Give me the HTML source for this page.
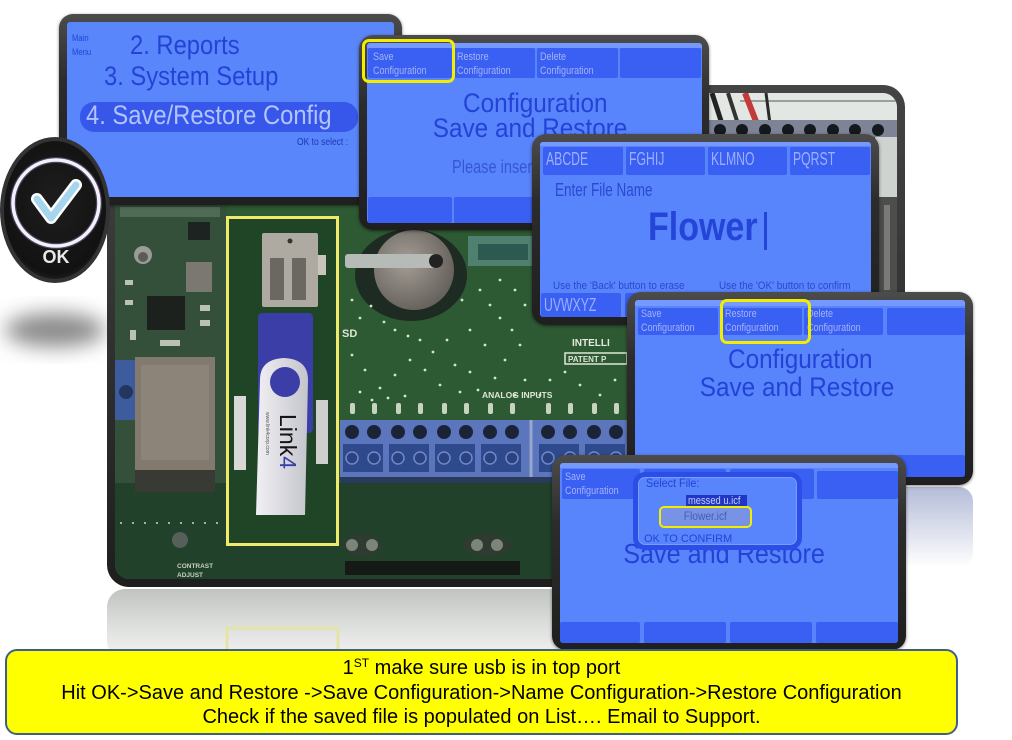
<!DOCTYPE html>
<html><head><meta charset="utf-8">
<style>
html,body{margin:0;padding:0;background:#fff;}
body{width:1012px;height:740px;position:relative;overflow:hidden;font-family:"Liberation Sans",Arial,sans-serif;}
.scr{position:absolute;border-radius:14px;background:linear-gradient(180deg,#4c4c4c 0%,#2c2c2c 35%,#1f1f1f 100%);box-shadow:0 1px 3px rgba(0,0,0,.5);}
.lcd{position:absolute;overflow:hidden;background:#5884fc;border-radius:3px;}
.strip{position:absolute;left:0;right:0;top:0;background:#7599ff;}
.tab{position:absolute;background:#3a5ff3;border-radius:2px;}
.t{position:absolute;white-space:nowrap;line-height:1;transform-origin:0 0;}
.tt{position:absolute;white-space:nowrap;font-size:11px;line-height:14px;color:#a3b4f6;transform:scaleX(.82);transform-origin:0 0;}
.c{position:absolute;white-space:nowrap;line-height:1;text-align:center;width:400px;}
.c span{display:inline-block;transform-origin:50% 0;}
.yb{position:absolute;border:3px solid #f3ee00;border-radius:7px;box-sizing:border-box;}
.dk{color:#2443d6;}
</style></head><body>

<svg width="1012" height="740" viewBox="0 0 1012 740" style="position:absolute;left:0;top:0">
<defs>
<clipPath id="pc"><rect x="115" y="93" width="782" height="486" rx="14"/></clipPath>
<linearGradient id="rf" x1="0" y1="0" x2="0" y2="1"><stop offset="0" stop-color="#c0c4c0"/><stop offset="0.5" stop-color="#dcdedc"/><stop offset="1" stop-color="#f3f3f3"/></linearGradient>
<linearGradient id="rf2" x1="0" y1="0" x2="0" y2="1"><stop offset="0" stop-color="#b4bcd8"/><stop offset="1" stop-color="#ffffff"/></linearGradient>
<linearGradient id="fr" x1="0" y1="0" x2="0" y2="1"><stop offset="0" stop-color="#444"/><stop offset="1" stop-color="#1e1e1e"/></linearGradient>
<radialGradient id="coin" cx="0.4" cy="0.4" r="0.7"><stop offset="0" stop-color="#a49e96"/><stop offset="1" stop-color="#5f5a55"/></radialGradient>
<linearGradient id="sw" x1="0" y1="0" x2="1" y2="0"><stop offset="0" stop-color="#f0f0f4"/><stop offset="1" stop-color="#c4c4cc"/></linearGradient>
<filter id="bl" x="-50%" y="-50%" width="200%" height="200%"><feGaussianBlur stdDeviation="10"/></filter>
</defs>
<ellipse cx="55" cy="330" rx="50" ry="17" fill="#8a8a8a" filter="url(#bl)"/>
<rect x="107" y="589" width="460" height="70" rx="18" fill="url(#rf)"/>
<rect x="227" y="628" width="111" height="40" fill="none" stroke="#e6e3a8" stroke-width="3"/>
<rect x="870" y="487" width="103" height="80" rx="14" fill="url(#rf2)"/>
<rect x="107" y="85" width="798" height="502" rx="22" fill="url(#fr)"/>
<g clip-path="url(#pc)">
<rect x="115" y="93" width="782" height="486" fill="#2d5a33"/>
<rect x="115" y="93" width="112" height="486" fill="#34503a"/>
<rect x="115" y="483" width="445" height="96" fill="#22412a"/>
<!-- top right -->
<rect x="700" y="93" width="197" height="44" fill="#e3e7e3"/>
<line x1="740" y1="101" x2="897" y2="101" stroke="#9aa09a" stroke-width="2"/>
<path d="M712,93 L722,124" stroke="#222" stroke-width="5"/>
<path d="M728,93 L738,124" stroke="#333" stroke-width="4"/>
<path d="M745,93 L757,124" stroke="#c23a3a" stroke-width="6"/>
<path d="M766,93 L770,124" stroke="#2a2a2a" stroke-width="3"/>
<rect x="705" y="120" width="192" height="17" fill="#7d8496"/>
<g fill="#15181f"><circle cx="720" cy="130" r="6"/><circle cx="742" cy="130" r="6"/><circle cx="765" cy="130" r="6"/><circle cx="788" cy="130" r="6"/><circle cx="810" cy="130" r="6"/><circle cx="833" cy="130" r="6"/><circle cx="855" cy="130" r="6"/><circle cx="878" cy="130" r="6"/></g>
<rect x="875" y="137" width="22" height="60" fill="#cfd3cf"/>
<rect x="875" y="197" width="22" height="100" fill="#4d4d4b"/>
<rect x="884" y="205" width="6" height="85" fill="#7a7a78"/>
<!-- teal chip -->
<rect x="468" y="236" width="64" height="30" fill="#4f8070"/>
<rect x="478" y="244" width="50" height="16" fill="#2c5a50"/>
<!-- battery -->
<ellipse cx="411" cy="275" rx="56" ry="46" fill="#1d2b22"/>
<circle cx="414" cy="270" r="40" fill="url(#coin)"/>
<rect x="345" y="254" width="95" height="14" rx="3" fill="#b7bbb7"/>
<circle cx="436" cy="261" r="7" fill="#222"/>
<!-- left components -->
<rect x="120" y="207" width="100" height="10" fill="#4f6a55"/>
<circle cx="143" cy="255" r="9" fill="#9a9c96"/><circle cx="143" cy="257" r="5" fill="#5a5c56"/>
<rect x="186" y="262" width="26" height="30" fill="#7a7870"/>
<rect x="147" y="296" width="38" height="34" fill="#1c211d"/>
<rect x="188" y="222" width="22" height="18" fill="#1d2320"/>
<g fill="#b9c2b4"><rect x="125" y="280" width="8" height="5"/><rect x="125" y="300" width="8" height="5"/><rect x="200" y="305" width="10" height="6"/><rect x="200" y="320" width="10" height="6"/><rect x="160" y="340" width="20" height="6"/><rect x="130" y="330" width="6" height="10"/></g>
<!-- ethernet -->
<rect x="115" y="360" width="22" height="60" fill="#3d5c9e"/><circle cx="126" cy="392" r="7" fill="#23375e"/>
<rect x="135" y="357" width="80" height="113" fill="#827a6e"/>
<rect x="141" y="365" width="68" height="95" fill="#8c8478"/>
<rect x="135" y="470" width="80" height="22" fill="#3a3a34"/>
<line x1="120" y1="523" x2="330" y2="523" stroke="#9fb29a" stroke-width="2" stroke-dasharray="2 10"/>
<circle cx="180" cy="540" r="8" fill="#56605a"/>
<text x="177" y="568" font-size="6.5" font-weight="bold" fill="#c9d0c6" font-family="Liberation Sans, sans-serif">CONTRAST</text>
<text x="177" y="577" font-size="6.5" font-weight="bold" fill="#c9d0c6" font-family="Liberation Sans, sans-serif">ADJUST</text>
<!-- dots -->
<g fill="#d6e4cf">
<circle cx="352" cy="300" r="1.4"/><circle cx="360" cy="318" r="1.4"/><circle cx="371" cy="306" r="1.4"/><circle cx="384" cy="322" r="1.4"/><circle cx="395" cy="330" r="1.4"/><circle cx="408" cy="336" r="1.4"/><circle cx="420" cy="340" r="1.4"/><circle cx="433" cy="352" r="1.4"/><circle cx="447" cy="340" r="1.4"/><circle cx="455" cy="365" r="1.4"/><circle cx="470" cy="372" r="1.4"/><circle cx="462" cy="300" r="1.4"/><circle cx="480" cy="290" r="1.4"/><circle cx="490" cy="305" r="1.4"/><circle cx="500" cy="318" r="1.4"/><circle cx="512" cy="330" r="1.4"/><circle cx="520" cy="345" r="1.4"/><circle cx="505" cy="360" r="1.4"/><circle cx="495" cy="378" r="1.4"/><circle cx="478" cy="390" r="1.4"/><circle cx="460" cy="392" r="1.4"/><circle cx="440" cy="385" r="1.4"/><circle cx="425" cy="370" r="1.4"/><circle cx="410" cy="360" r="1.4"/><circle cx="395" cy="375" r="1.4"/><circle cx="380" cy="388" r="1.4"/><circle cx="365" cy="370" r="1.4"/><circle cx="352" cy="355" r="1.4"/><circle cx="360" cy="392" r="1.4"/><circle cx="372" cy="400" r="1.4"/><circle cx="388" cy="398" r="1.4"/><circle cx="405" cy="396" r="1.4"/><circle cx="515" cy="395" r="1.4"/><circle cx="525" cy="380" r="1.4"/><circle cx="540" cy="395" r="1.4"/><circle cx="550" cy="380" r="1.4"/><circle cx="565" cy="372" r="1.4"/><circle cx="580" cy="385" r="1.4"/><circle cx="600" cy="395" r="1.4"/><circle cx="615" cy="380" r="1.4"/><circle cx="500" cy="280" r="1.4"/><circle cx="515" cy="290" r="1.4"/><circle cx="525" cy="305" r="1.4"/><circle cx="470" cy="330" r="1.4"/><circle cx="485" cy="345" r="1.4"/>
</g>
<text x="342" y="337" font-size="11" font-weight="bold" fill="#dde5d5" font-family="Liberation Sans, sans-serif">SD</text>
<text x="482" y="398" font-size="8.5" font-weight="bold" fill="#dfe6d8" font-family="Liberation Sans, sans-serif">ANALOG INPUTS</text>
<text x="572" y="346" font-size="10" font-weight="bold" fill="#e3e9dd" font-family="Liberation Sans, sans-serif">INTELLI</text>
<rect x="565" y="353" width="62" height="11" fill="none" stroke="#dfe6d8" stroke-width="1.5"/>
<text x="568" y="362" font-size="8" font-weight="bold" fill="#dfe6d8" font-family="Liberation Sans, sans-serif">PATENT P</text>
<!-- terminal blocks -->
<g fill="#c8d2c0"><rect x="350" y="403" width="5" height="11" rx="2"/><rect x="372" y="403" width="5" height="11" rx="2"/><rect x="396" y="403" width="5" height="11" rx="2"/><rect x="418" y="403" width="5" height="11" rx="2"/><rect x="442" y="403" width="5" height="11" rx="2"/><rect x="464" y="403" width="5" height="11" rx="2"/><rect x="488" y="403" width="5" height="11" rx="2"/><rect x="510" y="403" width="5" height="11" rx="2"/><rect x="546" y="403" width="5" height="11" rx="2"/><rect x="568" y="403" width="5" height="11" rx="2"/><rect x="592" y="403" width="5" height="11" rx="2"/><rect x="614" y="403" width="5" height="11" rx="2"/></g>
<rect x="340" y="420" width="290" height="63" fill="#5b76bc"/>
<line x1="531" y1="420" x2="531" y2="483" stroke="#97a8cc" stroke-width="3"/>
<g fill="#2f4a8c"><rect x="343" y="444" width="40" height="28"/><rect x="389" y="444" width="40" height="28"/><rect x="435" y="444" width="40" height="28"/><rect x="481" y="444" width="40" height="28"/><rect x="539" y="444" width="40" height="28"/><rect x="585" y="444" width="40" height="28"/></g>
<g fill="#1b2336"><circle cx="352" cy="432" r="7"/><circle cx="374" cy="432" r="7"/><circle cx="398" cy="432" r="7"/><circle cx="420" cy="432" r="7"/><circle cx="444" cy="432" r="7"/><circle cx="466" cy="432" r="7"/><circle cx="490" cy="432" r="7"/><circle cx="512" cy="432" r="7"/><circle cx="548" cy="432" r="7"/><circle cx="570" cy="432" r="7"/><circle cx="594" cy="432" r="7"/><circle cx="616" cy="432" r="7"/></g>
<g fill="#2a4280" stroke="#7088c8" stroke-width="1.5"><circle cx="352" cy="458" r="6"/><circle cx="374" cy="458" r="6"/><circle cx="398" cy="458" r="6"/><circle cx="420" cy="458" r="6"/><circle cx="444" cy="458" r="6"/><circle cx="466" cy="458" r="6"/><circle cx="490" cy="458" r="6"/><circle cx="512" cy="458" r="6"/><circle cx="548" cy="458" r="6"/><circle cx="570" cy="458" r="6"/><circle cx="594" cy="458" r="6"/><circle cx="616" cy="458" r="6"/></g>
<rect x="340" y="477" width="290" height="6" fill="#2a3a5a"/>
<!-- bottom connectors -->
<ellipse cx="362" cy="545" rx="20" ry="11" fill="#2f3a30"/><circle cx="352" cy="545" r="6" fill="#7c857a"/><circle cx="372" cy="545" r="6" fill="#7c857a"/>
<ellipse cx="487" cy="545" rx="24" ry="11" fill="#2f3a30"/><circle cx="477" cy="545" r="6" fill="#7c857a"/><circle cx="497" cy="545" r="6" fill="#7c857a"/>
<rect x="345" y="561" width="175" height="14" fill="#161a16"/>
<!-- yellow box + usb -->
<rect x="227.5" y="217.5" width="110" height="327" fill="#1f4426" stroke="#efe96c" stroke-width="3"/>
<rect x="262" y="233" width="56" height="74" rx="2" fill="#aeaaa2"/>
<rect x="270" y="258" width="14" height="42" fill="#6b6862"/>
<rect x="292" y="258" width="14" height="42" fill="#6b6862"/>
<circle cx="290" cy="241" r="2.5" fill="#333"/>
<rect x="318" y="255" width="8" height="20" fill="#c9c5bd"/>
<rect x="234" y="396" width="12" height="74" fill="#d8d8d8"/>
<rect x="316" y="400" width="12" height="64" fill="#cfcfcf"/>
<rect x="258" y="313" width="55" height="120" rx="4" fill="#3a3ea6"/>
<path d="M260,380 Q260,359 284,358 Q308,359 308,380 L305,515 L256,515 Z" fill="url(#sw)"/>
<circle cx="285" cy="382" r="15" fill="#3a3ea6"/>
<text transform="translate(280,414) rotate(90)" font-size="23" fill="#151515" font-family="Liberation Sans, sans-serif">Link<tspan fill="#3a3ea6">4</tspan></text>
<text transform="translate(266,412) rotate(90)" font-size="5" fill="#555" font-family="Liberation Sans, sans-serif">www.link4corp.com</text>
</g>
</svg>

<!-- Screen 1 -->
<div class="scr" style="left:59px;top:14px;width:343px;height:191px;">
 <div class="lcd" style="left:8px;top:8px;width:327px;height:175px;background:#5a86fb;">
  <div class="t dk" style="left:5px;top:9px;font-size:9px;line-height:14px;transform:scaleX(.85)">Main<br>Menu</div>
  <div class="t dk" style="left:63px;top:10px;font-size:27px;transform:scaleX(.88)">2. Reports</div>
  <div class="t dk" style="left:37px;top:41px;font-size:27px;transform:scaleX(.88)">3. System Setup</div>
  <div style="position:absolute;left:13px;top:80px;width:278px;height:30px;border-radius:14px;background:#3657ea"></div>
  <div class="t" style="left:19px;top:80px;font-size:27px;color:#b2c4ff;transform:scaleX(.88)">4. Save/Restore Config</div>
  <div class="t" style="left:230px;top:116px;font-size:10px;color:#1c36b8;transform:scaleX(.85)">OK to select :</div>
 </div>
</div>

<!-- Screen 2 -->
<div class="scr" style="left:359px;top:35px;width:350px;height:195px;">
 <div class="lcd" style="left:8px;top:8px;width:335px;height:180px;">
  <div class="strip" style="height:5px"></div>
  <div class="tab" style="left:1px;top:5px;width:84px;height:30px"></div>
  <div class="tab" style="left:87px;top:5px;width:81px;height:30px"></div>
  <div class="tab" style="left:170px;top:5px;width:81px;height:30px"></div>
  <div class="tab" style="left:253px;top:5px;width:81px;height:30px"></div>
  <div class="tt" style="left:6px;top:7px">Save<br>Configuration</div>
  <div class="tt" style="left:90px;top:7px">Restore<br>Configuration</div>
  <div class="tt" style="left:173px;top:7px">Delete<br>Configuration</div>
  <div class="c dk" style="left:-32px;top:47px;font-size:27px"><span style="transform:scaleX(.9)">Configuration</span></div>
  <div class="c dk" style="left:-37px;top:72px;font-size:27px"><span style="transform:scaleX(.9)">Save and Restore</span></div>
  <div class="t" style="left:85px;top:115px;font-size:18px;color:#3656d8;transform:scaleX(.81)">Please insert USB</div>
  <div class="tab" style="left:1px;top:154px;width:84px;height:26px"></div>
  <div class="tab" style="left:87px;top:154px;width:81px;height:26px"></div>
  <div class="tab" style="left:170px;top:154px;width:81px;height:26px"></div>
  <div class="tab" style="left:253px;top:154px;width:81px;height:26px"></div>
 </div>
</div>
<div class="yb" style="left:362px;top:39px;width:93px;height:44px"></div>

<!-- Screen 3 -->
<div class="scr" style="left:532px;top:134px;width:347px;height:191px;">
 <div class="lcd" style="left:8px;top:8px;width:331px;height:175px;">
  <div class="strip" style="height:4px"></div>
  <div class="tab" style="left:3px;top:5px;width:80px;height:28px"></div>
  <div class="tab" style="left:86px;top:5px;width:79px;height:28px"></div>
  <div class="tab" style="left:168px;top:5px;width:79px;height:28px"></div>
  <div class="tab" style="left:250px;top:5px;width:80px;height:28px"></div>
  <div class="t" style="left:6px;top:8px;font-size:18px;color:#9cb0ff;transform:scaleX(.68)">ABCDE</div>
  <div class="t" style="left:89px;top:8px;font-size:18px;color:#9cb0ff;transform:scaleX(.68)">FGHIJ</div>
  <div class="t" style="left:171px;top:8px;font-size:18px;color:#9cb0ff;transform:scaleX(.68)">KLMNO</div>
  <div class="t" style="left:253px;top:8px;font-size:18px;color:#9cb0ff;transform:scaleX(.68)">PQRST</div>
  <div class="t" style="left:15px;top:39px;font-size:18px;color:#2b48d2;transform:scaleX(.75)">Enter File Name</div>
  <div class="t" style="left:108px;top:65px;font-size:40px;font-weight:bold;color:#2545d8;transform:scaleX(.85)">Flower</div>
  <div style="position:absolute;left:224px;top:70px;width:3px;height:38px;background:#2545d8"></div>
  <div class="t" style="left:13px;top:139px;font-size:11px;color:#2a48d0;transform:scaleX(.9)">Use the 'Back' button to erase</div>
  <div class="t" style="left:179px;top:139px;font-size:11px;color:#2a48d0;transform:scaleX(.9)">Use the 'OK' button to confirm</div>
  <div class="tab" style="left:1px;top:151px;width:80px;height:24px"></div>
  <div class="tab" style="left:85px;top:151px;width:79px;height:24px"></div>
  <div class="tab" style="left:168px;top:151px;width:79px;height:24px"></div>
  <div class="tab" style="left:251px;top:151px;width:80px;height:24px"></div>
  <div class="t" style="left:4px;top:154px;font-size:18px;color:#9cb0ff;transform:scaleX(.68)">UVWXYZ</div>
 </div>
</div>

<!-- Screen 4 -->
<div class="scr" style="left:627px;top:292px;width:346px;height:193px;">
 <div class="lcd" style="left:8px;top:8px;width:330px;height:177px;">
  <div class="strip" style="height:6px"></div>
  <div class="tab" style="left:3px;top:8px;width:80px;height:27px"></div>
  <div class="tab" style="left:87px;top:8px;width:80px;height:27px"></div>
  <div class="tab" style="left:169px;top:8px;width:79px;height:27px"></div>
  <div class="tab" style="left:252px;top:8px;width:78px;height:27px"></div>
  <div class="tt" style="left:6px;top:7px">Save<br>Configuration</div>
  <div class="tt" style="left:90px;top:7px">Restore<br>Configuration</div>
  <div class="tt" style="left:172px;top:7px">Delete<br>Configuration</div>
  <div class="c dk" style="left:-35px;top:46px;font-size:27px"><span style="transform:scaleX(.9)">Configuration</span></div>
  <div class="c dk" style="left:-38px;top:74px;font-size:27px"><span style="transform:scaleX(.9)">Save and Restore</span></div>
  <div class="tab" style="left:3px;top:155px;width:80px;height:22px"></div>
  <div class="tab" style="left:87px;top:155px;width:80px;height:22px"></div>
  <div class="tab" style="left:169px;top:155px;width:79px;height:22px"></div>
  <div class="tab" style="left:252px;top:155px;width:78px;height:22px"></div>
 </div>
</div>
<div class="yb" style="left:720px;top:299px;width:91px;height:45px"></div>

<!-- Screen 5 -->
<div class="scr" style="left:552px;top:455px;width:354px;height:195px;">
 <div class="lcd" style="left:8px;top:8px;width:338px;height:180px;">
  <div class="strip" style="height:5px"></div>
  <div class="tab" style="left:2px;top:6px;width:78px;height:30px"></div>
  <div class="tab" style="left:84px;top:6px;width:82px;height:30px"></div>
  <div class="tab" style="left:170px;top:6px;width:84px;height:30px"></div>
  <div class="tab" style="left:257px;top:8px;width:81px;height:28px"></div>
  <div class="tt" style="left:5px;top:7px">Save<br>Configuration</div>
  <div class="c dk" style="left:-36px;top:77px;font-size:28px"><span style="transform:scaleX(.9)">Save and Restore</span></div>
  <div style="position:absolute;left:73px;top:9px;width:169px;height:78px;box-sizing:border-box;border:5px solid #2d4ee6;border-radius:12px;background:#5884fc;box-shadow:inset 0 0 0 1px #7a9cff;"></div>
  <div class="t dk" style="left:86px;top:14px;font-size:12px;transform:scaleX(.9)">Select File:</div>
  <div style="position:absolute;left:126px;top:32px;width:61px;height:12px;background:#2137c4"></div>
  <div class="t" style="left:128px;top:33px;font-size:11px;color:#c0ccff;transform:scaleX(.85)">messed u.icf</div>
  <div class="t dk" style="left:84px;top:71px;font-size:11px;">OK TO CONFIRM</div>
  <div class="tab" style="left:0px;top:159px;width:80px;height:21px"></div>
  <div class="tab" style="left:84px;top:159px;width:82px;height:21px"></div>
  <div class="tab" style="left:170px;top:159px;width:82px;height:21px"></div>
  <div class="tab" style="left:256px;top:159px;width:82px;height:21px"></div>
 </div>
</div>
<div class="yb" style="left:659px;top:506px;width:93px;height:22px;background:#7893e6;border-width:2.5px;border-radius:5px;text-align:center;font-size:12px;line-height:17px;color:#4a5cb0;"><span style="display:inline-block;transform:scaleX(.85)">Flower.icf</span></div>

<!-- OK button -->
<svg width="120" height="300" viewBox="0 0 120 300" style="position:absolute;left:0;top:0">
<defs><radialGradient id="btn" cx="0.5" cy="0.45" r="0.6"><stop offset="0" stop-color="#1e1e1e"/><stop offset="0.85" stop-color="#121212"/><stop offset="1" stop-color="#2a2a2a"/></radialGradient></defs>
<ellipse cx="55" cy="210" rx="55" ry="73" fill="#333"/>
<ellipse cx="55" cy="210" rx="51" ry="69" fill="url(#btn)"/>
<circle cx="56" cy="203" r="43" fill="none" stroke="#8a7ab0" stroke-width="6" opacity=".45"/>
<circle cx="56" cy="203" r="43" fill="none" stroke="#f4f0fb" stroke-width="3.5"/>
<path d="M37,199 L51,218 L76,185" fill="none" stroke="#ffffff" stroke-width="12" stroke-linecap="round" stroke-linejoin="round"/>
<path d="M37,199 L51,218 L76,185" fill="none" stroke="#a6d6ee" stroke-width="7" stroke-linecap="round" stroke-linejoin="round"/>
<text x="56" y="263" text-anchor="middle" font-size="18" font-weight="bold" fill="#e8e8e8" font-family="Liberation Sans, sans-serif">OK</text>
</svg>

<!-- Note box -->
<div style="position:absolute;left:5px;top:649px;width:953px;height:86px;box-sizing:border-box;border:2.5px solid #3e5f8c;border-radius:12px;background:#ffff00;"></div>
<div style="position:absolute;left:5px;top:656px;width:953px;text-align:center;font-size:20px;line-height:24.5px;color:#000;">
1<span style="font-size:12px;position:relative;top:-7px;line-height:0">ST</span> make sure usb is in top port<br>
Hit OK-&gt;Save and Restore -&gt;Save Configuration-&gt;Name Configuration-&gt;Restore Configuration<br>
Check if the saved file is populated on List…. Email to Support.
</div>

</body></html>
